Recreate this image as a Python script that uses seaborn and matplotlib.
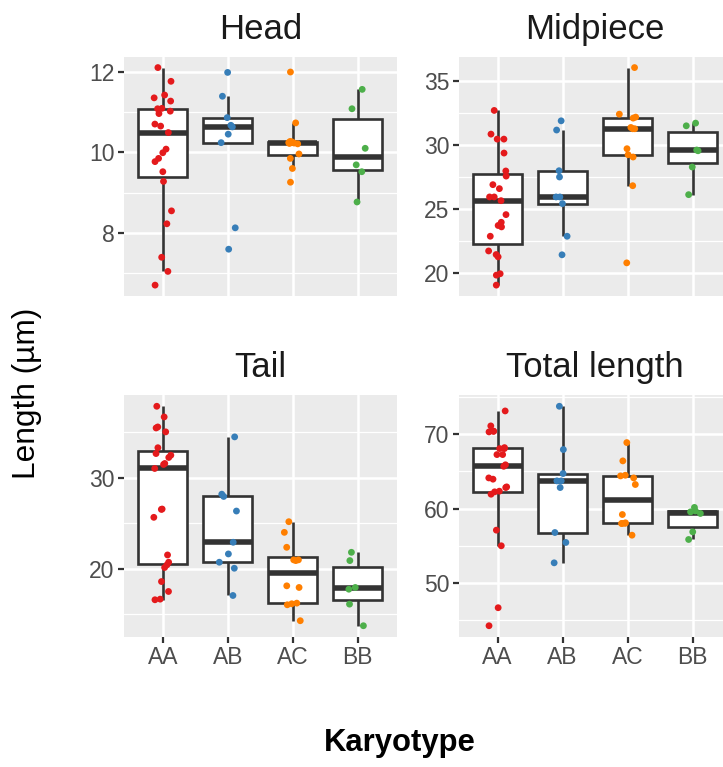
import numpy as np
import pandas as pd
import matplotlib
matplotlib.use("Agg")
import matplotlib.pyplot as plt
import seaborn as sns

# ---------------- data ----------------
karyotypes = ["AA", "AB", "AC", "BB"]
parts = ["Head", "Midpiece", "Tail", "Total length"]
colors = ["#E41A1C", "#377EB8", "#FF7F00", "#4DAF4A"]

head_aa = [6.71, 7.05, 7.40, 8.23, 8.55, 9.28, 9.52, 9.77, 9.85, 9.99, 10.08, 10.49,
           10.65, 10.70, 10.96, 11.02, 11.08, 11.09, 11.27, 11.35, 11.42, 11.76, 12.10]
head_ab = [7.60, 8.13, 10.24, 10.45, 10.63, 10.67, 10.86, 11.39, 11.98]
head_ac = [9.26, 9.60, 9.85, 9.96, 10.21, 10.22, 10.23, 10.24, 10.26, 10.27, 10.73, 11.99]
head_bb = [8.77, 9.52, 9.69, 10.10, 11.08, 11.56]

mid_aa = [19.08, 19.86, 19.97, 21.29, 21.47, 21.75, 22.90, 23.63, 23.74, 23.99, 24.59, 25.68,
          25.97, 25.97, 26.62, 26.93, 27.60, 28.00, 29.40, 30.49, 30.49, 30.88, 32.73]
mid_ab = [21.45, 22.90, 25.45, 25.97, 25.97, 27.53, 28.02, 31.20, 31.92]
mid_ac = [20.82, 26.85, 29.09, 29.27, 29.74, 31.30, 31.30, 31.40, 32.13, 32.21, 32.44, 36.08]
mid_bb = [26.15, 28.31, 29.58, 29.64, 31.53, 31.74]

tail_aa = [16.61, 16.68, 17.52, 18.61, 20.15, 20.44, 20.73, 21.53, 25.66, 26.53, 26.57, 31.02,
           31.46, 31.57, 32.23, 32.48, 32.66, 33.30, 35.04, 35.47, 35.58, 36.68, 37.85]
tail_ab = [17.08, 20.07, 20.73, 21.64, 22.92, 26.35, 27.95, 28.20, 34.49]
tail_ac = [14.31, 16.06, 16.17, 16.24, 17.96, 18.14, 20.91, 20.99, 20.99, 22.37, 24.01, 25.18]
tail_bb = [13.76, 16.13, 17.77, 17.96, 20.91, 21.82]

total_aa = [44.18, 46.61, 54.97, 57.08, 61.93, 62.25, 62.34, 62.83, 62.92, 63.96, 64.13, 65.70,
            65.90, 67.28, 67.28, 68.09, 68.09, 68.22, 70.34, 70.43, 70.43, 71.15, 73.17]
total_ab = [52.67, 55.42, 56.76, 62.83, 63.73, 63.73, 64.72, 67.96, 73.80]
total_ac = [56.40, 57.98, 57.98, 58.00, 58.07, 59.19, 63.24, 64.13, 64.40, 64.49, 66.43, 68.90]
total_bb = [55.82, 56.85, 59.33, 59.55, 59.67, 60.15]

head_major = [8, 10, 12]
head_minor = [7, 9, 11]
mid_major = [20, 25, 30, 35]
mid_minor = [22.5, 27.5, 32.5]
tail_major = [20, 30]
tail_minor = [15, 25, 35]
total_major = [50, 60, 70]
total_minor = [45, 55, 65, 75]

y_label = "Length (µm)"
x_label = "Karyotype"

series = {
    "Head": [head_aa, head_ab, head_ac, head_bb],
    "Midpiece": [mid_aa, mid_ab, mid_ac, mid_bb],
    "Tail": [tail_aa, tail_ab, tail_ac, tail_bb],
    "Total length": [total_aa, total_ab, total_ac, total_bb],
}
ticks = {
    "Head": (head_major, head_minor),
    "Midpiece": (mid_major, mid_minor),
    "Tail": (tail_major, tail_minor),
    "Total length": (total_major, total_minor),
}

rows = []
for p in parts:
    for k, vals in zip(karyotypes, series[p]):
        for v in vals:
            rows.append((p, k, v))
df = pd.DataFrame(rows, columns=["Part", "Karyotype", "Length"])

# ---------------- plotting ----------------
sns.set_style("white")
plt.rcParams["font.family"] = ["Liberation Sans", "DejaVu Sans"]

W, H = 723, 767
fig = plt.figure(figsize=(W / 100, H / 100), dpi=100)
fig.patch.set_facecolor("white")

col_left = [123.8, 458.7]
panel_w = 273.0
row_tb = [(56.7, 296.0), (395.3, 636.7)]
palette = dict(zip(karyotypes, colors))
np.random.seed(7)

for i, p in enumerate(parts):
    r, c = divmod(i, 2)
    t, b = row_tb[r]
    ax = fig.add_axes([col_left[c] / W, 1 - b / H, panel_w / W, (b - t) / H])
    d = df[df["Part"] == p]
    sns.boxplot(data=d, x="Karyotype", y="Length", order=karyotypes, ax=ax,
                width=0.75, whis=1.5, showcaps=False, showfliers=False,
                color="white", linecolor="#333333", linewidth=1.9,
                boxprops=dict(facecolor="white"),
                medianprops=dict(linewidth=4.0, color="#333333"))
    sns.stripplot(data=d, x="Karyotype", y="Length", order=karyotypes, hue="Karyotype",
                  hue_order=karyotypes, palette=palette, legend=False, jitter=0.14,
                  size=4.9, linewidth=0, ax=ax, zorder=4)
    ax.set_facecolor("#EBEBEB")
    for s in ax.spines.values():
        s.set_visible(False)
    ax.set_axisbelow(True)
    lo, hi = d["Length"].min(), d["Length"].max()
    pad = 0.05 * (hi - lo)
    ax.set_ylim(lo - pad, hi + pad)
    ax.set_xlim(-0.6, 3.6)
    major, minor = ticks[p]
    ax.set_yticks(major)
    ax.set_yticklabels([str(m) for m in major])
    ax.set_yticks(minor, minor=True)
    ax.grid(which="major", axis="both", color="white", linewidth=1.8)
    ax.grid(which="minor", axis="y", color="white", linewidth=0.9)
    ax.tick_params(axis="y", which="major", length=4.3, width=1.6, color="#333333",
                   labelsize=16.5, labelcolor="#4D4D4D", pad=2.5, left=True)
    ax.tick_params(axis="y", which="minor", length=0)
    if r == 1:
        ax.tick_params(axis="x", which="major", length=4.3, width=1.6, color="#333333",
                       labelsize=16.5, labelcolor="#4D4D4D", pad=2.5, bottom=True)
    else:
        ax.tick_params(axis="x", which="major", length=0, labelbottom=False)
    ax.set_xlabel("")
    ax.set_ylabel("")
    ax.set_title(p, fontsize=25, color="#1A1A1A", pad=13)

fig.text(27 / W, 1 - 393 / H, y_label, rotation=90, ha="center", va="center",
         fontsize=22.8, color="black")
fig.text(400 / W, 1 - 743 / H, x_label, ha="center", va="center",
         fontsize=22.3, fontweight="bold", color="black")

fig.savefig("out.png", dpi=100)
